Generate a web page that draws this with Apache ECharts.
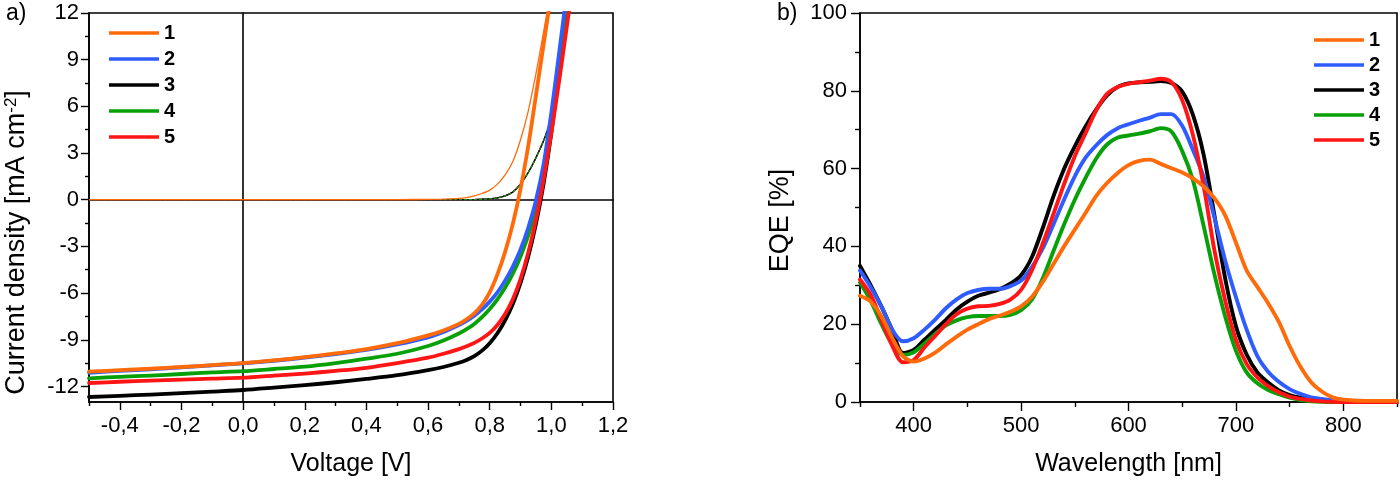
<!DOCTYPE html>
<html>
<head>
<meta charset="utf-8">
<script src="https://cdn.jsdelivr.net/npm/echarts@6/dist/echarts.min.js"></script>
<style>html,body{margin:0;padding:0;background:#fff}#c{width:1400px;height:482px}</style>
</head>
<body>
<div id="c"></div>
<script>
// ---------- Panel a) J-V data ----------
const voltage = [-0.5,-0.4,-0.3,-0.2,-0.1,0,0.1,0.2,0.3,0.4,0.5,0.6,0.65,0.7,0.725,0.75,0.775,0.8,0.825,0.85,0.875,0.9,0.925,0.95,0.975,1.0,1.025,1.05,1.075,1.1];
const jLight1 = [-11.05,-10.95,-10.85,-10.75,-10.63,-10.5,-10.32,-10.12,-9.88,-9.6,-9.22,-8.72,-8.4,-7.98,-7.68,-7.3,-6.75,-5.95,-4.8,-3.35,-1.55,0.7,3.45,6.7,10.0,13.3,16.6,19.9,23.2,26.5];
const jLight2 = [-11.12,-11.0,-10.9,-10.78,-10.65,-10.52,-10.35,-10.15,-9.92,-9.65,-9.3,-8.85,-8.5,-8.05,-7.78,-7.45,-7.05,-6.55,-5.95,-5.2,-4.3,-3.2,-1.8,-0.05,2.3,5.6,9.4,13.3,17.2,21.1];
const jLight3 = [-12.68,-12.6,-12.52,-12.43,-12.33,-12.23,-12.08,-11.92,-11.73,-11.52,-11.28,-10.95,-10.75,-10.48,-10.3,-10.05,-9.7,-9.22,-8.58,-7.75,-6.7,-5.35,-3.65,-1.55,1.05,4.3,8.3,12.8,17.5,22.2];
const jLight4 = [-11.48,-11.38,-11.3,-11.2,-11.1,-11.02,-10.88,-10.73,-10.5,-10.22,-9.9,-9.4,-9.05,-8.6,-8.32,-7.98,-7.55,-7.02,-6.4,-5.65,-4.75,-3.65,-2.3,-0.6,1.7,4.9,8.6,12.4,16.2,20.0];
const jLight5 = [-11.78,-11.7,-11.63,-11.56,-11.5,-11.44,-11.3,-11.17,-11.0,-10.8,-10.5,-10.15,-9.9,-9.6,-9.42,-9.2,-8.92,-8.56,-8.05,-7.35,-6.4,-5.1,-3.4,-1.3,1.3,4.3,7.6,11.1,14.7,18.3];
const jDark1 = [0,0,0,0,0,0,0,0,0,0,0.01,0.02,0.04,0.08,0.14,0.24,0.4,0.62,1.0,1.6,2.45,3.85,5.7,8.1,10.8,13.6,16.4,19.2,22.0,24.8];
const jDark2 = [0,0,0,0,0,0,0,0,0,0,0,0,0,0,0,0.01,0.03,0.06,0.12,0.25,0.5,1.0,1.75,2.7,3.8,5.5,9.4,13.3,17.2,21.1];
const jDark3 = [0,0,0,0,0,0,0,0,0,0,0,0,0,0,0,0.01,0.03,0.06,0.12,0.25,0.5,1.0,1.75,2.7,3.8,5.2,8.3,12.8,17.5,22.2];
const jDark4 = [0,0,0,0,0,0,0,0,0,0,0,0,0,0,0,0.01,0.03,0.06,0.12,0.25,0.5,1.0,1.75,2.7,3.8,5.1,8.6,12.4,16.2,20.0];
const jDark5 = [0,0,0,0,0,0,0,0,0,0,0,0,0,0,0,0.01,0.03,0.06,0.12,0.25,0.5,1.0,1.75,2.7,3.8,5.0,7.6,11.1,14.7,18.3];
const vLabelTicks = [-0.4,-0.2,0,0.2,0.4,0.6,0.8,1.0,1.2];
const vMinorTicks = [-0.5,-0.3,-0.1,0.1,0.3,0.5,0.7,0.9,1.1];
const jLabelTicks = [-12,-9,-6,-3,0,3,6,9,12];
const jMinorTicks = [-10.5,-7.5,-4.5,-1.5,1.5,4.5,7.5,10.5];

// ---------- Panel b) EQE data ----------
const wavelength = [350,360,370,380,390,400,410,420,430,440,450,460,470,480,490,500,510,520,530,540,550,560,570,580,590,600,610,620,630,640,650,660,670,680,690,700,710,720,730,740,750,760,770,780,790,800,820,850];
const eqe1 = [27.3,25.8,22.0,16.5,11.8,10.4,11.2,12.7,14.8,16.8,18.6,20.0,21.3,22.2,23.2,24.6,27.0,30.8,35.4,40.0,44.3,48.6,53.0,56.3,58.9,60.9,62.0,62.3,61.2,60.1,59.0,57.5,55.4,52.4,48.0,41.0,33.8,29.6,25.4,20.6,14.4,9.1,5.1,2.7,1.2,0.6,0.3,0.3];
const eqe2 = [33.8,29.5,24.5,18.6,15.6,16.4,18.6,21.2,24.1,26.4,28.0,28.8,29.1,29.1,29.8,31.2,34.6,39.4,45.6,52.0,58.0,62.8,66.0,68.6,70.4,71.4,72.3,73.1,74.0,74.0,71.0,64.8,57.8,47.4,36.4,27.0,18.6,11.8,7.8,5.2,3.3,2.1,1.2,0.8,0.5,0.3,0.2,0.1];
const eqe3 = [35.0,30.0,24.5,18.5,12.6,13.4,16.0,18.6,21.1,23.8,25.8,27.3,28.1,29.0,30.4,32.6,37.2,44.6,52.8,59.9,65.7,70.8,75.2,78.8,81.0,81.9,82.2,82.3,82.5,82.0,79.8,73.8,63.5,48.0,31.8,19.5,12.2,7.6,5.0,3.0,1.8,1.1,0.6,0.3,0.1,0,0,0];
const eqe4 = [30.7,26.0,20.0,14.8,12.1,12.8,15.0,17.5,19.7,21.0,21.8,22.1,22.1,22.1,22.4,23.6,26.3,31.7,38.7,45.6,52.0,57.6,62.6,66.2,68.0,68.5,69.0,69.6,70.4,69.5,64.5,57.0,45.2,32.8,22.0,13.2,7.6,4.8,3.1,2.0,1.1,0.5,0.2,0.05,0,0,0,0];
const eqe5 = [31.5,27.5,21.0,14.5,10.2,10.8,14.0,17.0,20.0,22.6,24.0,24.6,24.7,25.2,26.3,28.8,33.8,40.6,48.2,56.0,63.2,69.1,75.0,79.2,81.0,81.8,82.2,82.6,83.1,82.2,77.6,68.6,55.5,39.0,26.1,16.0,9.8,6.3,4.1,2.5,1.4,0.8,0.4,0.15,0.05,0,0,0];
const wlLabelTicks = [400,500,600,700,800];
const wlMinorTicks = [350,450,550,650,750,850];

const legendNames = ['1','2','3','4','5'];
const colors = {'1':'#ff6a0a','2':'#2f5cff','3':'#000000','4':'#08a008','5':'#ff1515'};

const FONT = "'Liberation Sans', Arial, sans-serif";
const pair = (xs, ys) => xs.map((x, i) => [x, ys[i]]);

const chart = echarts.init(document.getElementById('c'), null, {renderer: 'canvas'});

const axisLineStyle = {color: '#000', width: 1.6};
const tickLineStyle = {color: '#000', width: 1.4};
const labelStyle = {color: '#000', fontSize: 22, fontFamily: FONT};
const nameStyle = {color: '#000', fontSize: 25, fontFamily: FONT};

function lightSeries(name, ys) {
  return {name, type: 'line', xAxisIndex: 0, yAxisIndex: 0, data: pair(voltage, ys), showSymbol: false,
    symbol: 'none', smooth: 0.3, clip: true,
    lineStyle: {color: colors[name], width: 3.8, cap: 'round', join: 'round'}, itemStyle: {color: colors[name]}, z: 3};
}
function darkSeries(name, ys, dashed) {
  return {name: 'dark' + name, type: 'line', xAxisIndex: 0, yAxisIndex: 0, data: pair(voltage, ys), showSymbol: false,
    symbol: 'none', smooth: 0.3, clip: true,
    lineStyle: {color: colors[name], width: 1.3, type: dashed ? [3, 2] : 'solid'}, z: 2};
}
function eqeSeries(name, ys) {
  return {name, type: 'line', xAxisIndex: 3, yAxisIndex: 3, data: pair(wavelength, ys), showSymbol: false,
    symbol: 'none', smooth: 0.3, clip: true,
    lineStyle: {color: colors[name], width: 3.9, cap: 'round', join: 'round'}, itemStyle: {color: colors[name]}, z: 3};
}

const vFmt = v => (Math.round(v * 10) / 10).toFixed(1).replace('.', ',');

const option = {
  animation: false,
  backgroundColor: '#fff',
  textStyle: {fontFamily: FONT},
  graphic: [
    {type: 'text', left: 6, top: 2, style: {text: 'a)', font: '23px ' + FONT, fill: '#000'}},
    {type: 'text', left: 777, top: 2, style: {text: 'b)', font: '23px ' + FONT, fill: '#000'}}
  ],
  legend: [
    {orient: 'vertical', left: 104, top: 18, data: legendNames, icon: 'rect', itemWidth: 50, itemHeight: 3.5,
      itemGap: 6, selectedMode: false, textStyle: {fontSize: 20, fontWeight: 'bold', color: '#000', fontFamily: FONT}},
    {orient: 'vertical', left: 1309, top: 25, data: legendNames, icon: 'rect', itemWidth: 50, itemHeight: 3.5,
      itemGap: 5, selectedMode: false, textStyle: {fontSize: 20, fontWeight: 'bold', color: '#000', fontFamily: FONT}}
  ],
  grid: [
    {left: 89, right: 787, top: 13, bottom: 79, show: true, borderColor: '#000', borderWidth: 1.6, backgroundColor: 'transparent'},
    {left: 860, right: 3, top: 13, bottom: 79, show: true, borderColor: '#000', borderWidth: 1.6, backgroundColor: 'transparent'}
  ],
  xAxis: [
    {gridIndex: 0, type: 'value', min: -0.5, max: 1.2, position: 'bottom',
      axisLine: {show: true, onZero: false, lineStyle: axisLineStyle},
      axisTick: {show: true, customValues: vLabelTicks, length: 8, lineStyle: tickLineStyle},
      axisLabel: {show: true, customValues: vLabelTicks, formatter: vFmt, margin: 13, ...labelStyle},
      splitLine: {show: false},
      name: 'Voltage [V]', nameLocation: 'middle', nameGap: 50, nameTextStyle: nameStyle},
    {gridIndex: 0, type: 'value', min: -0.5, max: 1.2, position: 'bottom',
      axisLine: {show: false, onZero: false},
      axisTick: {show: true, customValues: vMinorTicks, length: 4, lineStyle: tickLineStyle},
      axisLabel: {show: false}, splitLine: {show: false}},
    {gridIndex: 0, type: 'value', min: -0.5, max: 1.2, position: 'bottom',
      axisLine: {show: true, onZero: true, onZeroAxisIndex: 0, lineStyle: axisLineStyle},
      axisTick: {show: false}, axisLabel: {show: false}, splitLine: {show: false}},
    {gridIndex: 1, type: 'value', min: 350, max: 850, position: 'bottom',
      axisLine: {show: true, onZero: false, lineStyle: axisLineStyle},
      axisTick: {show: true, customValues: wlLabelTicks, length: 9, lineStyle: tickLineStyle},
      axisLabel: {show: true, customValues: wlLabelTicks, margin: 13, ...labelStyle},
      splitLine: {show: false},
      name: 'Wavelength [nm]', nameLocation: 'middle', nameGap: 50, nameTextStyle: nameStyle},
    {gridIndex: 1, type: 'value', min: 350, max: 850, position: 'bottom',
      axisLine: {show: false, onZero: false},
      axisTick: {show: true, customValues: wlMinorTicks, length: 5, lineStyle: tickLineStyle},
      axisLabel: {show: false}, splitLine: {show: false}}
  ],
  yAxis: [
    {gridIndex: 0, type: 'value', min: -13, max: 12, position: 'left',
      axisLine: {show: true, onZero: false, lineStyle: axisLineStyle},
      axisTick: {show: true, customValues: jLabelTicks, length: 8, lineStyle: tickLineStyle},
      axisLabel: {show: true, customValues: jLabelTicks, margin: 10, ...labelStyle},
      splitLine: {show: false},
      name: 'Current density [mA cm{sup|-2}]', nameLocation: 'middle', nameGap: 58,
      nameTextStyle: {...nameStyle, fontSize: 27, padding: [0, 70, 0, 0],
        rich: {sup: {fontSize: 17, fontFamily: FONT, color: '#000', verticalAlign: 'top', lineHeight: 28}}}},
    {gridIndex: 0, type: 'value', min: -13, max: 12, position: 'left',
      axisLine: {show: false, onZero: false},
      axisTick: {show: true, customValues: jMinorTicks, length: 4, lineStyle: tickLineStyle},
      axisLabel: {show: false}, splitLine: {show: false}},
    {gridIndex: 0, type: 'value', min: -13, max: 12, position: 'left',
      axisLine: {show: true, onZero: true, onZeroAxisIndex: 0, lineStyle: axisLineStyle},
      axisTick: {show: false}, axisLabel: {show: false}, splitLine: {show: false}},
    {gridIndex: 1, type: 'value', min: 0, max: 100, interval: 20, position: 'left',
      axisLine: {show: true, onZero: false, lineStyle: axisLineStyle},
      axisTick: {show: true, length: 9, lineStyle: tickLineStyle},
      minorTick: {show: true, splitNumber: 2, length: 5, lineStyle: tickLineStyle},
      axisLabel: {show: true, margin: 13, ...labelStyle},
      splitLine: {show: false}, minorSplitLine: {show: false},
      name: 'EQE [%]', nameLocation: 'middle', nameGap: 66,
      nameTextStyle: {...nameStyle, fontSize: 27, padding: [0, 26, 0, 0]}}
  ],
  series: [
    darkSeries('2', jDark2, false),
    darkSeries('5', jDark5, false),
    darkSeries('3', jDark3, false),
    darkSeries('4', jDark4, true),
    darkSeries('1', jDark1, false),
    lightSeries('3', jLight3),
    lightSeries('4', jLight4),
    lightSeries('2', jLight2),
    lightSeries('5', jLight5),
    lightSeries('1', jLight1),
    eqeSeries('3', eqe3),
    eqeSeries('4', eqe4),
    eqeSeries('2', eqe2),
    eqeSeries('5', eqe5),
    eqeSeries('1', eqe1)
  ]
};
chart.setOption(option);
</script>
</body>
</html>
